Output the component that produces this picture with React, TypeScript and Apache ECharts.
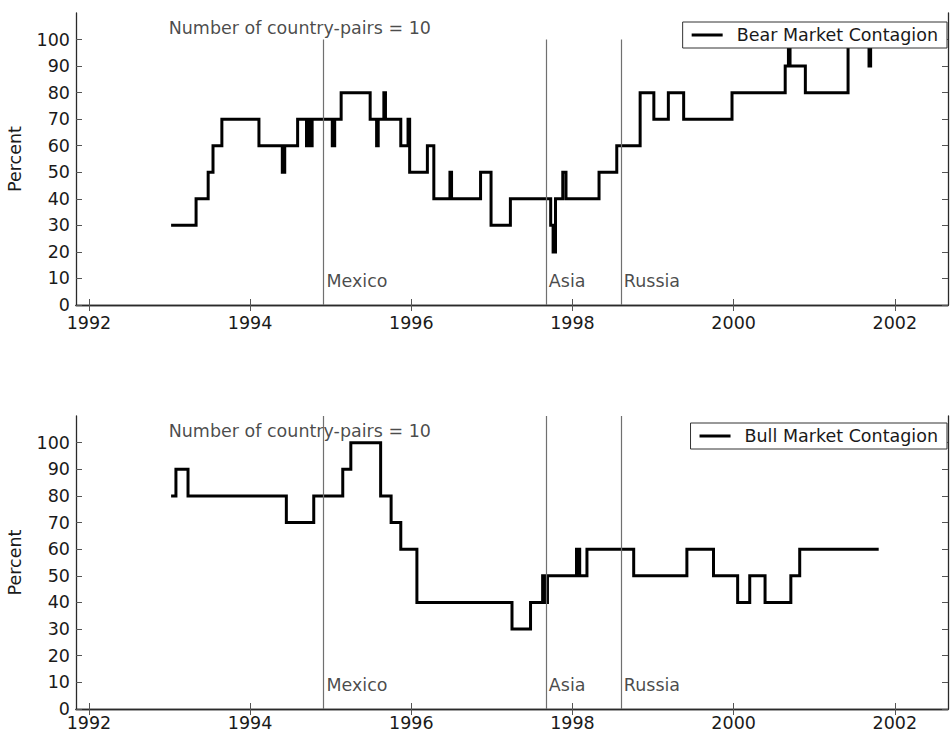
import React, { useEffect, useRef } from "react";
import * as echarts from "echarts";

// Axis ticks
const yearTicks = [1992, 1994, 1996, 1998, 2000, 2002];
const percentTicks = [0, 10, 20, 30, 40, 50, 60, 70, 80, 90, 100];

// Crisis dates marked by vertical lines
const eventNames = ["Mexico", "Asia", "Russia"];
const eventYears = [1994.91, 1997.67, 1998.6];

const pairsNote = "Number of country-pairs = 10";

// Share of country pairs with contagion (%), value holds from each date onward
const bearYears = [
  1993.02, 1993.33, 1993.48, 1993.54, 1993.65, 1994.11, 1994.4, 1994.43, 1994.59,
  1994.7, 1994.72, 1994.75, 1994.77, 1995.02, 1995.05, 1995.13, 1995.49, 1995.57,
  1995.59, 1995.66, 1995.68, 1995.87, 1995.96, 1995.98, 1996.2, 1996.28, 1996.48,
  1996.5, 1996.86, 1996.99, 1997.23, 1997.73, 1997.76, 1997.79, 1997.88, 1997.92,
  1998.33, 1998.55, 1998.84, 1999.01, 1999.19, 1999.38, 1999.98, 2000.64, 2000.68,
  2000.7, 2000.89, 2001.42, 2001.68, 2001.7, 2001.8,
];
const bearValues = [
  30, 40, 50, 60, 70, 60, 50, 60, 70,
  60, 70, 60, 70, 60, 70, 80, 70, 60,
  70, 80, 70, 60, 70, 50, 60, 40, 50,
  40, 50, 30, 40, 30, 20, 40, 50, 40,
  50, 60, 80, 70, 80, 70, 80, 90, 100,
  90, 80, 100, 90, 100, 100,
];

const bullYears = [
  1993.02, 1993.08, 1993.23, 1994.45, 1994.79, 1995.15, 1995.25, 1995.62, 1995.75,
  1995.87, 1996.07, 1997.25, 1997.48, 1997.63, 1997.64, 1997.66, 1997.67, 1997.69,
  1998.05, 1998.06, 1998.08, 1998.09, 1998.18, 1998.76, 1999.42, 1999.75, 2000.05,
  2000.2, 2000.39, 2000.71, 2000.82, 2001.8,
];
const bullValues = [
  80, 90, 80, 70, 80, 90, 100, 80, 70,
  60, 40, 30, 40, 50, 40, 50, 40, 50,
  60, 50, 60, 50, 60, 50, 60, 50, 40,
  50, 40, 50, 60, 60,
];

const FONT = "DejaVu Sans";
const FS = 17.5;
const TEXT = "#1a1a1a";
const AXIS = "#2a2a2a";

function xAxes(gridIndex: number, labelMargin: number) {
  const common = {
    type: "value" as const,
    gridIndex,
    min: 1991.84,
    max: 2002.66,
    splitLine: { show: false },
    axisLine: { show: true, lineStyle: { color: AXIS, width: 1.3 } },
    axisTick: { show: true, inside: true, length: 6, customValues: yearTicks, lineStyle: { color: "#555" } },
  };
  return [
    {
      ...common,
      position: "bottom",
      axisLabel: {
        customValues: yearTicks,
        formatter: (v: number) => String(Math.round(v)),
        color: TEXT,
        fontFamily: FONT,
        fontSize: FS,
        lineHeight: 19,
        margin: labelMargin,
      },
    },
    { ...common, position: "top", axisLabel: { show: false } },
  ];
}

function yAxes(gridIndex: number) {
  const common = {
    type: "value" as const,
    gridIndex,
    min: 0,
    max: 110,
    splitLine: { show: false },
    axisLine: { show: true, lineStyle: { color: AXIS, width: 1.3 } },
    axisTick: { show: true, inside: true, length: 6, customValues: percentTicks, lineStyle: { color: "#555" } },
  };
  return [
    {
      ...common,
      position: "left",
      name: "Percent",
      nameLocation: "middle",
      nameGap: 52,
      nameTextStyle: { color: TEXT, fontFamily: FONT, fontSize: FS },
      axisLabel: { customValues: percentTicks, color: TEXT, fontFamily: FONT, fontSize: FS, margin: 6 },
    },
    { ...common, position: "right", axisLabel: { show: false } },
  ];
}

function contagionSeries(name: string, years: number[], values: number[], axis: number, eventTop: number) {
  return {
    type: "line",
    name,
    xAxisIndex: axis,
    yAxisIndex: axis,
    step: "end",
    symbol: "none",
    data: years.map((y, i) => [y, values[i]]),
    lineStyle: { color: "#000", width: 3, join: "miter" },
    itemStyle: { color: "#000" },
    z: 3,
    markLine: {
      silent: true,
      symbol: "none",
      label: { show: false },
      lineStyle: { color: "#707070", width: 1.2, type: "solid" },
      data: eventYears.map((y) => [{ coord: [y, 0] }, { coord: [y, eventTop] }]),
    },
  };
}

function annotationSeries(axis: number) {
  const label = { show: true, position: "right", distance: 3, color: TEXT, fontFamily: FONT, fontSize: FS };
  return {
    type: "scatter",
    xAxisIndex: axis,
    yAxisIndex: axis,
    symbolSize: 0,
    silent: true,
    data: [
      ...eventYears.map((y, i) => ({ value: [y, 9], name: eventNames[i] })),
      { value: [1992.99, 104.5], name: pairsNote, label: { distance: 0 } },
    ],
    label: { ...label, formatter: (p: any) => p.name },
  };
}

function legend(name: string, top: number) {
  return {
    data: [{ name, icon: "rect" }],
    right: 3,
    top,
    orient: "horizontal",
    backgroundColor: "#fff",
    borderColor: "#333",
    borderWidth: 1,
    borderRadius: 0,
    padding: [4, 9, 4, 9],
    itemWidth: 31,
    itemHeight: 3,
    itemStyle: { color: "#000", borderWidth: 0 },
    textStyle: { color: TEXT, fontFamily: FONT, fontSize: FS, padding: [0, 0, 0, 9] },
    z: 10,
  };
}

export default function App() {
  const ref = useRef<HTMLDivElement>(null);

  useEffect(() => {
    document.body.style.margin = "0";
    const chart = echarts.init(ref.current!, undefined, { renderer: "svg" });
    chart.setOption({
      animation: false,
      backgroundColor: "#fff",
      textStyle: { fontFamily: FONT },
      grid: [
        { left: 76, top: 13, right: 2, height: 292, outerBoundsMode: "none", containLabel: false },
        { left: 76, top: 416, right: 2, height: 293, outerBoundsMode: "none", containLabel: false },
      ],
      xAxis: [...xAxes(0, 8), ...xAxes(1, 4)],
      yAxis: [...yAxes(0), ...yAxes(1)],
      legend: [legend("Bear Market Contagion", 22), legend("Bull Market Contagion", 423)],
      series: [
        contagionSeries("Bear Market Contagion", bearYears, bearValues, 0, 100),
        contagionSeries("Bull Market Contagion", bullYears, bullValues, 2, 110),
        annotationSeries(0),
        annotationSeries(2),
      ],
    });
    return () => chart.dispose();
  }, []);

  return <div ref={ref} style={{ width: 950, height: 734 }} />;
}
